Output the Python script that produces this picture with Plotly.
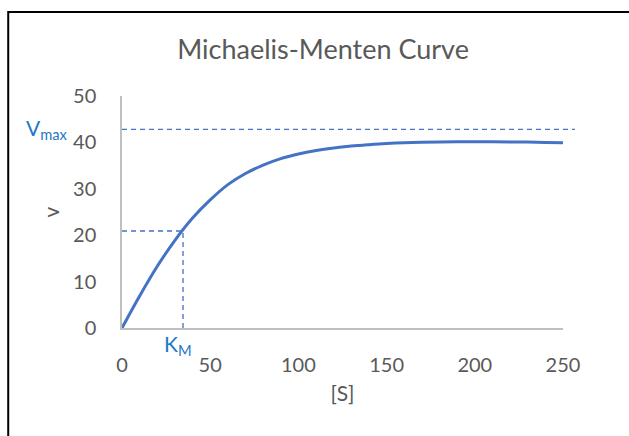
import plotly.graph_objects as go

S = [0, 10, 20, 30, 40, 50, 60, 70, 80, 90, 100, 110, 120, 130, 140, 150,
     160, 170, 180, 190, 200, 210, 220, 230, 240, 250]
v = [0, 6.9, 13.3, 18.9, 23.7, 27.6, 30.9, 33.3, 35.1, 36.5, 37.5, 38.25, 38.8,
     39.2, 39.5, 39.75, 39.92, 40.02, 40.08, 40.12, 40.13, 40.13, 40.11, 40.07, 40.0, 39.9]
vmax_line = 42.8
km = 34.6
half_v = 20.9
x_ticks = [0, 50, 100, 150, 200, 250]
y_ticks = [0, 10, 20, 30, 40, 50]

blue = "#4472C4"
label_blue = "#1F78C8"
grey_text = "#595959"
font_family = "Lato, 'Open Sans', sans-serif"

fig = go.Figure()
fig.add_trace(go.Scatter(x=S, y=v, mode="lines", line=dict(color=blue, width=3, shape="spline", smoothing=1.0),
                         hoverinfo="skip", showlegend=False))
# KM guide lines
fig.add_trace(go.Scatter(x=[0, km, km], y=[half_v, half_v, 0], mode="lines",
                         line=dict(color=blue, width=1.3, dash="5px,4px"),
                         hoverinfo="skip", showlegend=False, cliponaxis=False))

# Vmax dashed line (extends slightly past the axis end)
fig.add_shape(type="line", xref="paper", yref="y", x0=0, x1=1.027, y0=vmax_line, y1=vmax_line,
              line=dict(color=blue, width=1.3, dash="5px,4px"))

# outer frame
fig.add_shape(type="rect", xref="paper", yref="paper", x0=-0.258, x1=1.3, y0=-0.6, y1=1.362,
              line=dict(color="black", width=2), layer="above")

fig.add_annotation(text="V<sub>max</sub>", xref="paper", yref="y", x=-0.17, y=vmax_line,
                   showarrow=False, font=dict(color=label_blue, size=21, family=font_family),
                   xanchor="center", yanchor="middle")
fig.add_annotation(text="K<sub>M</sub>", xref="x", yref="paper", x=km - 3, y=-0.075,
                   showarrow=False, font=dict(color=label_blue, size=21, family=font_family),
                   xanchor="center", yanchor="middle")

fig.update_layout(
    width=629, height=436,
    margin=dict(l=122, r=66, t=96, b=108),
    paper_bgcolor="white", plot_bgcolor="white",
    font=dict(family=font_family, color=grey_text, size=20),
    title=dict(text="Michaelis-Menten Curve", x=0.456, xref="paper", xanchor="center",
               y=1 - 50 / 436, yanchor="middle", font=dict(size=27, color=grey_text)),
    xaxis=dict(range=[0, 250], tickvals=x_ticks, showgrid=False, zeroline=False,
               showline=True, linecolor="#BFBFBF", linewidth=1.5, ticks="",
               ticklabelstandoff=18,
               title=dict(text="[S]", standoff=12, font=dict(size=21, color=grey_text))),
    yaxis=dict(range=[0, 50], tickvals=y_ticks, showgrid=False, zeroline=False,
               showline=True, linecolor="#BFBFBF", linewidth=1.5, ticks="",
               ticklabelstandoff=20,
               title=dict(text="v", standoff=8, font=dict(size=21, color=grey_text))),
)

fig.write_html("out.html")
